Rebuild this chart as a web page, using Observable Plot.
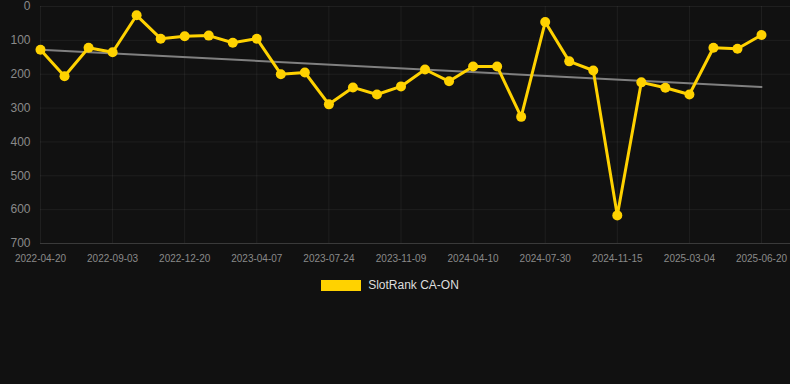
<!DOCTYPE html>
<html>
<head>
<meta charset="utf-8">
<script src="https://cdn.jsdelivr.net/npm/d3@7"></script>
<script src="https://cdn.jsdelivr.net/npm/@observablehq/plot@0.6"></script>
<style>
  html, body { margin: 0; padding: 0; background: #111111; }
  body { width: 790px; height: 384px; overflow: hidden; font-family: "Liberation Sans", Arial, Helvetica, sans-serif; }
  #chart svg { display: block; overflow: visible; }
  #legend { display: flex; justify-content: center; align-items: center; margin-top: 8px; margin-left: -10px; }
  #legend .sw { width: 40px; height: 11px; background: #ffd200; margin-right: 7px; }
  #legend .lb { color: #dddddd; font-size: 12px; }
</style>
</head>
<body>
<div id="chart"></div>
<div id="legend"><span class="sw"></span><span class="lb">SlotRank CA-ON</span></div>
<script>
const seriesName = "SlotRank CA-ON";
const rankValues = [128, 206, 122, 135, 26, 95, 88, 86, 107, 95,
                    200, 195, 289, 239, 260, 236, 186, 221, 177, 177,
                    326, 46, 162, 189, 617, 224, 240, 260, 122, 125, 84];
const tickLabels = ["2022-04-20", "2022-09-03", "2022-12-20", "2023-04-07", "2023-07-24",
                    "2023-11-09", "2024-04-10", "2024-07-30", "2024-11-15", "2025-03-04", "2025-06-20"];
const yTicks = [0, 100, 200, 300, 400, 500, 600, 700];

const data = rankValues.map((v, i) => ({i, v}));
const xTicks = tickLabels.map((_, k) => k * 3);

const chart = Plot.plot({
  width: 790,
  height: 270,
  marginLeft: 40,
  marginRight: 29,
  marginTop: 6,
  marginBottom: 27,
  style: {background: "#111111", fontFamily: "Liberation Sans, Arial, sans-serif", overflow: "visible"},
  x: {type: "linear", domain: [0, rankValues.length - 1]},
  y: {domain: [0, 700], reverse: true},
  marks: [
    Plot.gridX(xTicks, {stroke: "#ffffff", strokeOpacity: 0.06}),
    Plot.gridY(yTicks, {stroke: "#ffffff", strokeOpacity: 0.06, insetRight: -29}),
    Plot.ruleY([700], {stroke: "#ffffff", strokeOpacity: 0.12, insetRight: -29}),
    Plot.axisY(yTicks, {tickSize: 0, tickPadding: 10, fontSize: 12, fill: "#8a8a8a", label: null}),
    Plot.axisX(xTicks, {tickSize: 0, tickPadding: 11, fontSize: 10, fill: "#8a8a8a", label: null,
      tickFormat: d => tickLabels[d / 3]}),
    Plot.linearRegressionY(data, {x: "i", y: "v", ci: 0, stroke: "#808080", strokeWidth: 2}),
    Plot.line(data, {x: "i", y: "v", stroke: "#ffd200", strokeWidth: 3}),
    Plot.dot(data, {x: "i", y: "v", r: 5, fill: "#ffd200", stroke: "none"})
  ]
});
document.getElementById("chart").appendChild(chart);
</script>
</body>
</html>
